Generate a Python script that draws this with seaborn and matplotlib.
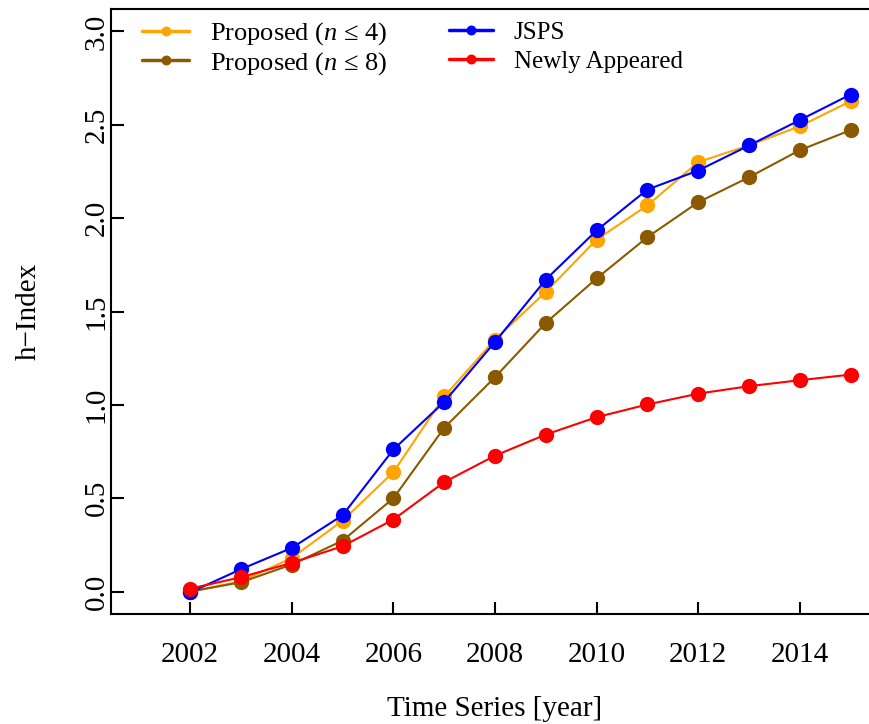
import matplotlib
matplotlib.use("Agg")
import matplotlib.pyplot as plt
import seaborn as sns
import pandas as pd

years = [2002, 2003, 2004, 2005, 2006, 2007, 2008, 2009, 2010, 2011, 2012, 2013, 2014, 2015]
proposed_n4 = [0.00, 0.055, 0.18, 0.38, 0.64, 1.045, 1.35, 1.605, 1.885, 2.068, 2.30, 2.39, 2.492, 2.626]
proposed_n8 = [0.00, 0.05, 0.145, 0.273, 0.50, 0.877, 1.148, 1.439, 1.677, 1.898, 2.085, 2.219, 2.364, 2.471]
jsps = [-0.004, 0.12, 0.234, 0.409, 0.761, 1.016, 1.337, 1.671, 1.934, 2.153, 2.255, 2.389, 2.525, 2.662]
newly_appeared = [0.016, 0.077, 0.154, 0.243, 0.386, 0.586, 0.728, 0.841, 0.934, 1.002, 1.06, 1.10, 1.132, 1.162]

series_names = ["Proposed ($n$ \u2264 4)", "Proposed ($n$ \u2264 8)", "JSPS", "Newly Appeared"]
series_values = [proposed_n4, proposed_n8, jsps, newly_appeared]
series_colors = ["#FFA500", "#8B5A00", "#0000FF", "#FF0000"]

x_ticks = [2002, 2004, 2006, 2008, 2010, 2012, 2014]
y_ticks = [0.0, 0.5, 1.0, 1.5, 2.0, 2.5, 3.0]

df = pd.DataFrame({
    "year": years * len(series_names),
    "h": [v for vals in series_values for v in vals],
    "series": [name for name in series_names for _ in years],
})

sns.set_style("white")
plt.rcParams["font.family"] = ["Liberation Serif", "DejaVu Serif"]
plt.rcParams["mathtext.fontset"] = "custom"
plt.rcParams["mathtext.rm"] = "Liberation Serif"
plt.rcParams["mathtext.it"] = "Liberation Serif:italic"
plt.rcParams["text.color"] = "black"
plt.rcParams["axes.labelcolor"] = "black"

fig = plt.figure(figsize=(8.69, 7.24), dpi=100)
ax = fig.add_axes([111 / 869, 110 / 724, 768 / 869, 605 / 724])

sns.lineplot(
    data=df, x="year", y="h", hue="series", hue_order=series_names,
    palette=dict(zip(series_names, series_colors)),
    marker="o", markersize=11, markeredgewidth=0, linewidth=1.5,
    ax=ax, legend=True,
)

ax.set_xlim(2000.44, 2015.56)
ax.set_ylim(-0.12, 3.12)
ax.set_xticks(x_ticks)
ax.set_yticks(y_ticks)
ax.set_xticklabels([str(t) for t in x_ticks])
ax.set_yticklabels([f"{t:.1f}" for t in y_ticks], rotation=90, va="center")

ax.tick_params(axis="both", direction="in", length=9, width=1.5, labelsize=21,
               bottom=True, left=True, colors="black")
ax.tick_params(axis="x", pad=20)
ax.tick_params(axis="y", pad=1)
for sp in ax.spines.values():
    sp.set_linewidth(1.5)
    sp.set_color("black")

ax.set_xlabel("Time Series [year]", fontsize=21, labelpad=20)
ax.set_ylabel("h\u2212Index", fontsize=21, labelpad=30)

handles, labels = ax.get_legend_handles_labels()
ax.get_legend().remove()

legend_kw = dict(
    loc="upper left", frameon=False, handlelength=1.75,
    borderpad=0, borderaxespad=0, markerscale=0.65,
)
left_col = ax.legend(handles[:2], labels[:2], bbox_to_anchor=(0.041, 0.981),
                     fontsize=19, handletextpad=0.8, labelspacing=0.09, **legend_kw)
ax.add_artist(left_col)
right_col = ax.legend(handles[2:], labels[2:], bbox_to_anchor=(0.440, 0.980),
                      fontsize=18, handletextpad=0.85, labelspacing=0.27, **legend_kw)
for lg in (left_col, right_col):
    for line in lg.get_lines():
        line.set_linewidth(2.5)
    for t in lg.get_texts():
        t.set_color("black")

fig.savefig("out.png", dpi=100)
